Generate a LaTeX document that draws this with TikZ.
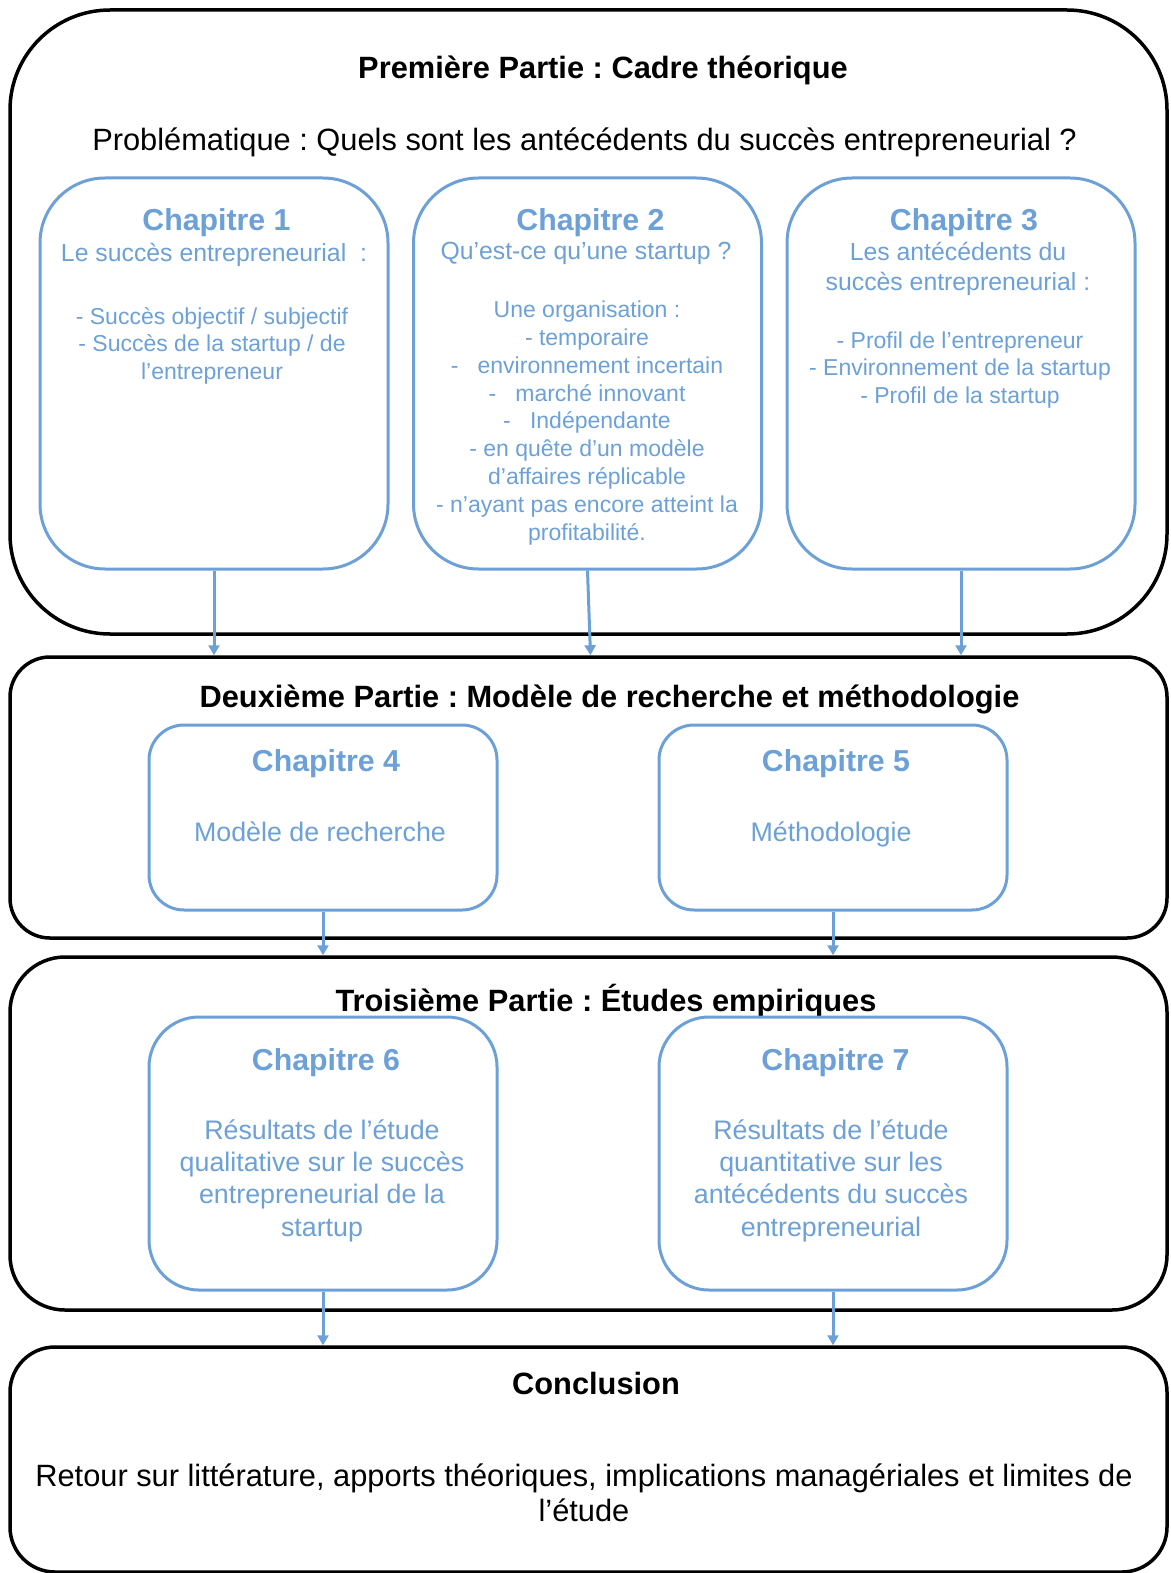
\documentclass[tikz,border=0pt]{standalone}
\usepackage{fontspec}
\setmainfont{Liberation Sans}
\usetikzlibrary{arrows.meta, positioning, calc}
\definecolor{colChap}{RGB}{108, 160, 214}
\frenchspacing

\begin{document}
\begin{tikzpicture}[x=1pt, y=-1pt,
    partbox/.style={draw=black, line width=3.5pt, rectangle, inner sep=0pt, minimum width=1157pt},
    chapbox/.style={draw=colChap, line width=3pt, rectangle, inner sep=0pt, minimum width=348pt},
    parthead/.style={font=\fontsize{30.8}{36}\selectfont\bfseries, inner sep=0pt, anchor=base},
    plaintxt/.style={font=\fontsize{30.8}{35}\selectfont, align=center, inner sep=0pt, anchor=base},
    chaptitle/.style={font=\fontsize{30.3}{36}\selectfont\bfseries, text=colChap, inner sep=0pt, anchor=base},
    chapsub/.style={font=\fontsize{24.8}{30}\selectfont, text=colChap, align=center, inner sep=0pt, anchor=base},
    chaplist/.style={font=\fontsize{23}{27.8}\selectfont, text=colChap, align=center, inner sep=0pt, anchor=base},
    chapbody/.style={font=\fontsize{26.8}{32.3}\selectfont, text=colChap, align=center, inner sep=0pt, anchor=base},
    flow/.style={draw=colChap, line width=3pt, -{Triangle[width=11pt, length=10pt]}}
]
    \useasboundingbox (0, 0) rectangle (1170, 1573);

    % --- Premiere Partie ---
    \node[partbox, minimum height=624pt, rounded corners=100pt] (part1) at (588.5, 322) {};
    \node[parthead] (head1) at (603, 78.5) {Première Partie : Cadre théorique};
    \node[plaintxt] (probl) at (584.5, 151) {Problématique : Quels sont les antécédents du succès entrepreneurial ?};

    % Chapitres 1 a 3 (texte multi-ligne place par sa derniere ligne)
    \node[chapbox, minimum height=391pt, rounded corners=65pt] (ch1) at (214, 373.5) {};
    \node[chapbox, minimum height=391pt, rounded corners=65pt] (ch2) at (587.5, 373.5) {};
    \node[chapbox, minimum height=391pt, rounded corners=65pt] (ch3) at (961, 373.5) {};

    \node[chaptitle] (ch1title) at (216.5, 230) {Chapitre 1};
    \node[chapsub] (ch1sub) at (214, 261.7) {Le succès entrepreneurial ~:};
    \node[chaplist] (ch1list) at (212, 379.6) {- Succès objectif / subjectif\\- Succès de la startup / de\\l’entrepreneur};

    \node[chaptitle] (ch2title) at (590.5, 230) {Chapitre 2};
    \node[chapsub] (ch2sub) at (586, 259.3) {Qu’est-ce qu’une startup ?};
    \node[chaplist] (ch2list) at (587, 540) {Une organisation :\\- temporaire\\-~~~environnement incertain\\-~~~marché innovant\\-~~~Indépendante\\- en quête d’un modèle\\d’affaires réplicable\\- n’ayant pas encore atteint la\\profitabilité.};

    \node[chaptitle] (ch3title) at (964, 230) {Chapitre 3};
    \node[chapsub] (ch3sub) at (958, 290) {Les antécédents du\\succès entrepreneurial :};
    \node[chaplist] (ch3list) at (960, 403.6) {- Profil de l’entrepreneur\\- Environnement de la startup\\- Profil de la startup};

    % --- Deuxieme Partie ---
    \node[partbox, minimum height=281pt, rounded corners=40pt] (part2) at (588.5, 797.5) {};
    \node[parthead] (head2) at (609.5, 707) {Deuxième Partie : Modèle de recherche et méthodologie};

    \node[chapbox, minimum height=185pt, rounded corners=35pt] (ch4) at (323, 817.5) {};
    \node[chapbox, minimum height=185pt, rounded corners=35pt] (ch5) at (833, 817.5) {};
    \node[chaptitle] (ch4title) at (326, 771.7) {Chapitre 4};
    \node[chapbody] (ch4body) at (320, 841.7) {Modèle de recherche};
    \node[chaptitle] (ch5title) at (836, 771.7) {Chapitre 5};
    \node[chapbody] (ch5body) at (831, 841.7) {Méthodologie};

    % --- Troisieme Partie ---
    \node[partbox, minimum height=353pt, rounded corners=55pt] (part3) at (588.5, 1133.5) {};
    \node[parthead] (head3) at (606, 1011.5) {Troisième Partie : Études empiriques};

    \node[chapbox, minimum height=273pt, rounded corners=50pt] (ch6) at (323, 1153.5) {};
    \node[chapbox, minimum height=273pt, rounded corners=50pt] (ch7) at (833, 1153.5) {};
    \node[chaptitle] (ch6title) at (326, 1070) {Chapitre 6};
    \node[chapbody] (ch6body) at (322, 1236.2) {Résultats de l’étude\\qualitative sur le succès\\entrepreneurial de la\\startup};
    \node[chaptitle] (ch7title) at (835.5, 1070) {Chapitre 7};
    \node[chapbody] (ch7body) at (831, 1236.2) {Résultats de l’étude\\quantitative sur les\\antécédents du succès\\entrepreneurial};

    % --- Conclusion ---
    \node[partbox, minimum height=225pt, rounded corners=45pt] (concl) at (588.5, 1459.5) {};
    \node[parthead] (head4) at (596, 1394) {Conclusion};
    \node[plaintxt] (conclbody) at (584, 1521) {Retour sur littérature, apports théoriques, implications managériales et limites de\\l’étude};

    % Fleches entre les parties
    \draw[flow] (ch1.south) -- (ch1.south |- part2.north);
    \draw[flow] (ch2.south) -- ([xshift=3pt]ch2.south |- part2.north);
    \draw[flow] (ch3.south) -- (ch3.south |- part2.north);
    \draw[flow] (ch4.south) -- (ch4.south |- part3.north);
    \draw[flow] (ch5.south) -- (ch5.south |- part3.north);
    \draw[flow] (ch6.south) -- (ch6.south |- concl.north);
    \draw[flow] (ch7.south) -- (ch7.south |- concl.north);

\end{tikzpicture}
\end{document}
